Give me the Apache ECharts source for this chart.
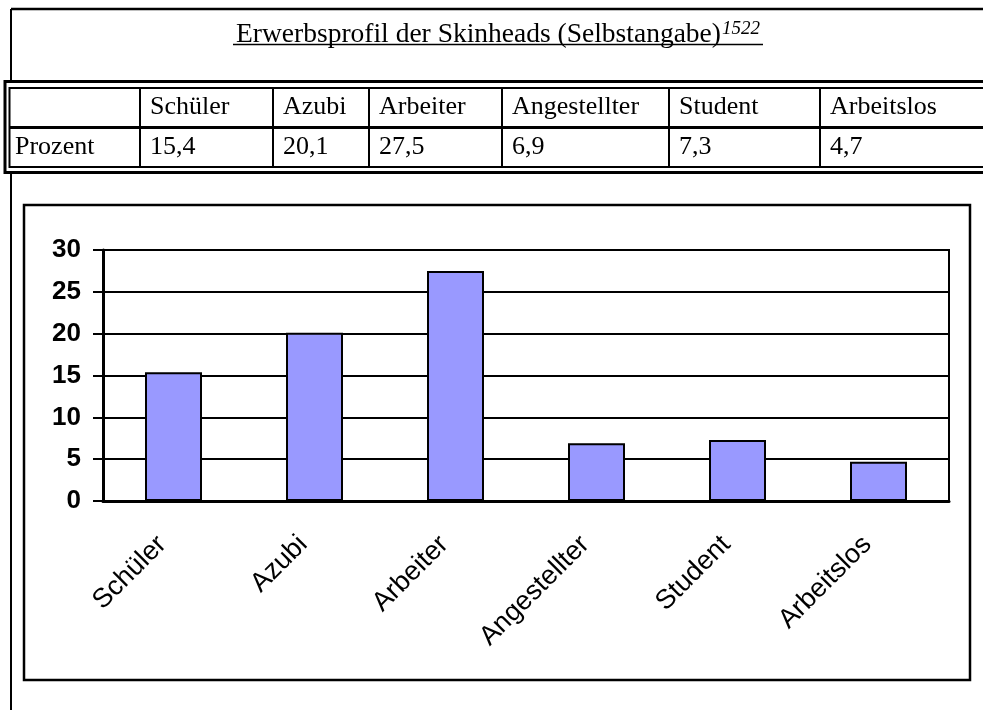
<!doctype html>
<html lang="de">
  <head>
    <meta charset="UTF-8" />
    <title>Erwerbsprofil der Skinheads</title>
    <script src="https://fastly.jsdelivr.net/npm/echarts@6/dist/echarts.min.js"></script>
    <style>
      * { margin: 0; padding: 0; }
      html, body { width: 983px; height: 710px; overflow: hidden; background: #fff; }
      #chart { width: 983px; height: 710px; }
    </style>
  </head>
  <body>
    <div id="chart"></div>
    <script>
      // data
      const titleText = 'Erwerbsprofil der Skinheads (Selbstangabe)';
      const footnote = '1522';
      const rowLabel = 'Prozent';
      const categories = ['Schüler', 'Azubi', 'Arbeiter', 'Angestellter', 'Student', 'Arbeitslos'];
      const percent = [15.4, 20.1, 27.5, 6.9, 7.3, 4.7];

      // layout of the table above the chart
      const colX = [140, 273, 369, 502, 669, 820];
      const serif = '"Liberation Serif", "Times New Roman", serif';
      const sans = '"Liberation Sans", Arial, sans-serif';

      const fmt = (v) => v.toFixed(1).replace('.', ',');

      const line = (x1, y1, x2, y2, w, z) => ({
        type: 'line',
        z: z || 10,
        silent: true,
        shape: { x1, y1, x2, y2 },
        style: { stroke: '#000', lineWidth: w },
      });
      const txt = (x, y, text, z) => ({
        type: 'text',
        z: z || 12,
        silent: true,
        x,
        y,
        style: { text, font: '26px ' + serif, fill: '#000', textVerticalAlign: 'middle' },
      });

      const graphics = [
        // page frame
        line(11, 9, 983, 9, 2.5, 5),
        line(11, 9, 11, 710, 2, 5),
        // title
        {
          type: 'text',
          z: 12,
          silent: true,
          x: 498,
          y: 34,
          style: {
            text: '{t|' + titleText + '}{s|' + footnote + '}',
            textAlign: 'center',
            textVerticalAlign: 'middle',
            rich: {
              t: { font: '27.5px ' + serif, fill: '#000', verticalAlign: 'bottom' },
              s: { font: 'italic 19px ' + serif, fill: '#000', verticalAlign: 'top', padding: [0, 0, 10, 1] },
            },
          },
        },
        line(233, 44.5, 763, 44.5, 1.5, 12),
        // table body
        {
          type: 'rect',
          z: 8,
          silent: true,
          shape: { x: 5, y: 81.5, width: 990, height: 91 },
          style: { fill: '#fff', stroke: '#000', lineWidth: 3 },
        },
        {
          type: 'rect',
          z: 9,
          silent: true,
          shape: { x: 9.5, y: 88, width: 990, height: 79 },
          style: { fill: 'none', stroke: '#000', lineWidth: 2 },
        },
        line(9, 127.5, 983, 127.5, 3, 10),
        txt(15, 147, rowLabel),
      ];
      colX.forEach((x, i) => {
        graphics.push(line(x, 88, x, 167, 2, 10));
        graphics.push(txt(x + 10, 107, categories[i]));
        graphics.push(txt(x + 10, 147, fmt(percent[i])));
      });
      // chart frame
      graphics.push({
        type: 'rect',
        z: 1,
        silent: true,
        shape: { x: 24, y: 205, width: 946, height: 475 },
        style: { fill: 'none', stroke: '#000', lineWidth: 2.5 },
      });

      const chart = echarts.init(document.getElementById('chart'), null, { renderer: 'canvas' });
      chart.setOption({
        animation: false,
        backgroundColor: '#fff',
        graphic: graphics,
        grid: {
          left: 103,
          right: 34,
          top: 250,
          bottom: 209,
          show: true,
          borderColor: '#000',
          borderWidth: 2,
          outerBoundsMode: 'none',
        },
        xAxis: {
          type: 'category',
          data: categories,
          axisLine: { lineStyle: { color: '#000', width: 3 } },
          axisTick: { length: 10, lineStyle: { color: '#000', width: 2 } },
          axisLabel: {
            interval: 0,
            rotate: 45,
            margin: 28,
            padding: [0, 16, 0, 0],
            color: '#000',
            fontSize: 27,
            fontFamily: sans,
          },
        },
        yAxis: {
          type: 'value',
          min: 0,
          max: 30,
          interval: 5,
          axisLine: { show: true, lineStyle: { color: '#000', width: 3 } },
          axisTick: { show: true, length: 10, lineStyle: { color: '#000', width: 2 } },
          splitLine: { lineStyle: { color: '#000', width: 2 } },
          axisLabel: {
            margin: 22,
            color: '#000',
            fontSize: 26,
            fontWeight: 'bold',
            fontFamily: sans,
          },
        },
        series: [
          {
            type: 'bar',
            data: percent,
            barWidth: 57,
            itemStyle: { color: '#9999FF', borderColor: '#000', borderWidth: 2 },
          },
        ],
      });
    </script>
  </body>
</html>
